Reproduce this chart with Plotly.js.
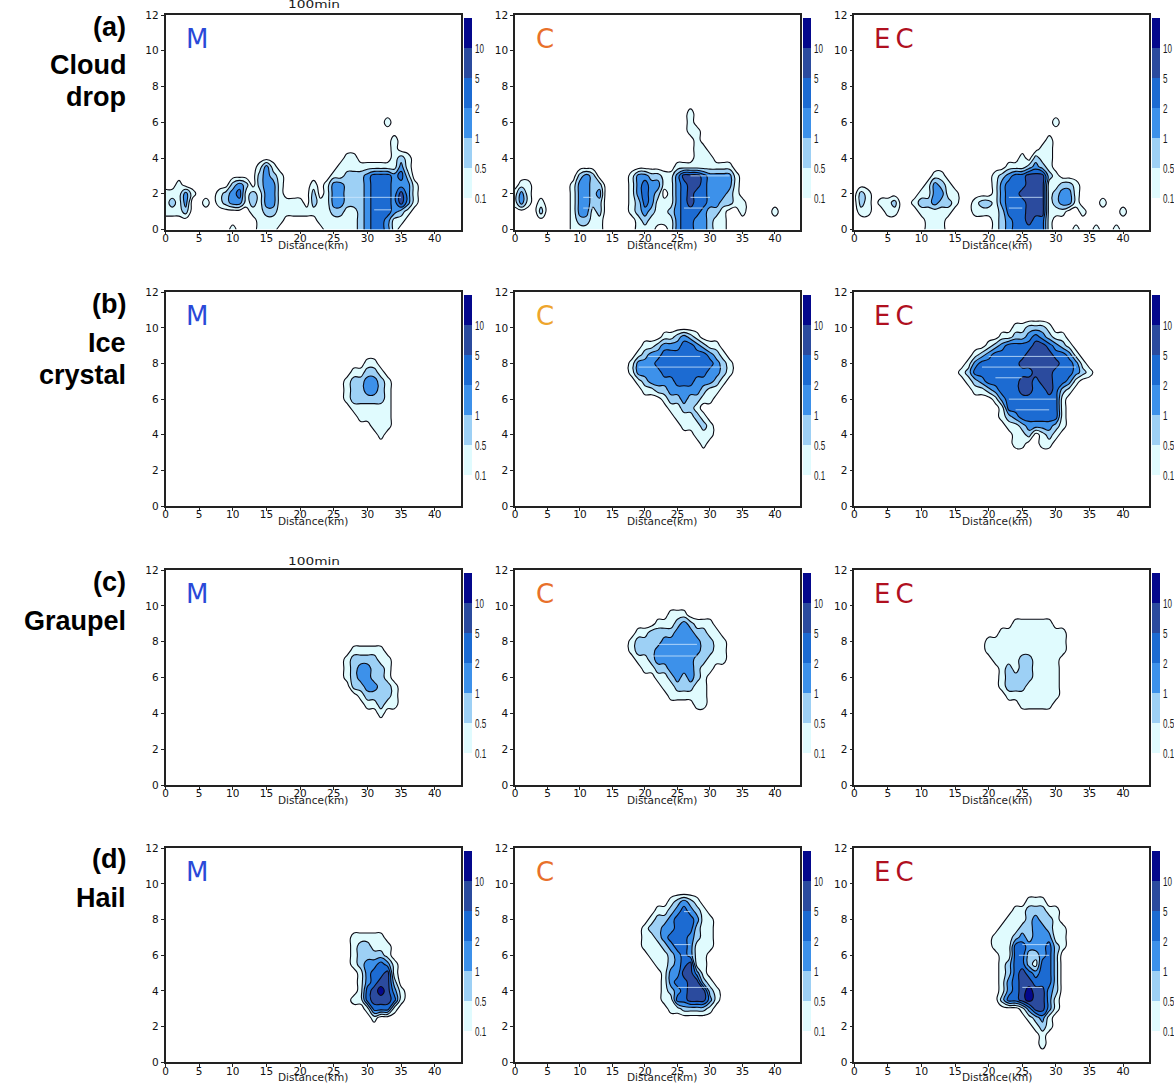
<!DOCTYPE html>
<html><head><meta charset="utf-8">
<script src="https://cdn.plot.ly/plotly-3.0.1.min.js"></script>
<style>html,body{margin:0;padding:0;background:#fff}</style></head>
<body><div id="chart" style="width:1174px;height:1084px"></div>
<script>
// Band codes: 0 = below 0.1, 1 = 0.1-0.5, 2 = 0.5-1, 3 = 1-2, 4 = 2-5, 5 = 5-10, 6 = above 10.
// Every row is one height (0.5 km apart, listed from the top down), every character one km of distance.
const levelLabels = ["0.1","0.5","1","2","5","10"];
const xTicks = [0,5,10,15,20,25,30,35,40];
const yTicks = [0,2,4,6,8,10,12];
const bandColors = ["#ffffff","#e0fbfe","#9dd0f5","#3d91ea","#1c6bd2","#2b4b9e","#04088c"];

const cloudM = [
"00000 00000 00000 00000 00000 00000 00010 00000",
"00000 00000 00000 00000 00000 00000 00000 00000",
"00000 00000 00000 00000 00000 00000 00001 00000",
"00000 00000 00000 00000 00000 00000 00001 00000",
"00000 00000 00000 00000 00000 00110 00001 21000",
"00000 00000 00001 31000 00000 01111 11111 31000",
"00000 00000 00002 32100 00000 11222 34443 42000",
"00100 00000 23202 33100 00101 33222 34443 33100",
"11131 00012 34121 33100 00201 33222 34443 53100",
"12130 01012 33121 33111 10211 33222 34443 53100",
"11120 00000 00011 22111 11111 22112 34443 21000",
"00000 00000 00001 11100 00011 11112 34431 10000",
"00000 00000 10001 11000 00001 11112 34431 00000"];
const cloudC = [
"00000 00000 00000 00000 00000 00100 00000 00000 00000",
"00000 00000 00000 00000 00000 00100 00000 00000 00000",
"00000 00000 00000 00000 00000 00110 00000 00000 00000",
"00000 00000 00000 00000 00000 00010 00000 00000 00000",
"00000 00000 00000 00000 00000 00011 00000 00000 00000",
"00000 00000 00000 00000 00000 00011 10000 00000 00000",
"00000 00000 00000 00000 00000 11111 11110 00000 00000",
"00000 00000 23200 00013 32211 35554 33331 00000 00000",
"01100 00001 33220 00013 43311 34554 33331 00000 00000",
"13100 00001 33230 00013 43201 34544 33321 00000 00000",
"13101 00001 33220 00012 43111 34544 33221 10000 00000",
"00002 00001 33120 00012 32112 34443 22100 10000 10000",
"00000 00001 22110 00001 21111 34433 21100 00000 00000",
"00000 00001 11110 00001 11001 34433 21100 00000 00000"];
const cloudEC = [
"00000 00000 00000 00000 00000 00000 10000 00000 00000",
"00000 00000 00000 00000 00000 00000 00000 00000 00000",
"00000 00000 00000 00000 00000 00001 00000 00000 00000",
"00000 00000 00000 00000 00000 00011 00000 00000 00000",
"00000 00000 00000 00000 00000 10211 00000 00000 00000",
"00000 00000 00000 00000 00011 12321 00000 00000 00000",
"00000 00000 00110 00000 01234 45552 10000 00000 00000",
"00000 00000 01321 00000 01344 45551 12210 00000 00000",
"02100 00000 11331 10000 01344 55551 23310 00000 00000",
"02101 12001 22322 10012 21344 45551 23310 00100 00000",
"01100 11000 11111 00011 11244 45551 11001 00000 10000",
"00000 00000 01110 00000 01234 45441 00000 00000 00000",
"00000 00000 01110 00000 01234 44441 00010 01001 00000"];

const iceM = [
"000011000",
"001122100",
"012233210",
"012233210",
"012222210",
"001111110",
"000111110",
"000001110",
"000000100"];
const iceC = [
"000000 112321 000000",
"000112 333443 211000",
"001233 444444 432100",
"013334 444444 443210",
"013333 444444 433210",
"001233 334443 332100",
"000112 233333 211000",
"000000 122322 110000",
"000000 011221 000000",
"000000 001112 100000",
"000000 000111 210000",
"000000 000001 110000",
"000000 000000 100000"];
const iceEC = [
"00000 00011 22210 00000",
"00000 01122 34321 10000",
"00001 23444 45543 21000",
"00123 44444 55554 43100",
"01344 44445 55555 44310",
"12444 44444 45554 44321",
"01234 44445 54554 43100",
"00112 34445 54454 21000",
"00000 13444 44444 10000",
"00000 01444 44444 10000",
"00000 01234 44444 10000",
"00000 00112 33332 10000",
"00000 00011 20121 00000",
"00000 00011 00110 00000"];

const graupelM = [
"00111 11000",
"01222 21100",
"01233 22100",
"01233 22100",
"00223 32210",
"00012 22210",
"00001 12110",
"00000 01000"];
const graupelC = [
"00000 00111 00000 00",
"00000 11123 21110 00",
"00112 22233 32211 00",
"01222 23333 33221 10",
"01222 33333 33221 10",
"00112 33333 32211 10",
"00011 22333 32110 00",
"00000 11232 32100 00",
"00000 01122 21100 00",
"00000 00111 11100 00",
"00000 00000 01100 00"];
const graupelEC = [
"00001 11111 000",
"00111 11111 110",
"11111 11111 110",
"11111 11111 110",
"01111 22111 100",
"00121 22111 100",
"00122 22111 100",
"00122 21111 100",
"00011 11111 100",
"00000 11111 000"];

const hailM = [
"011111000",
"012211100",
"012222100",
"012334310",
"001344510",
"001345520",
"001456531",
"011455541",
"000144410",
"000010000"];
const hailC = [
"00000 12321 000",
"00011 23432 100",
"00122 34443 110",
"01223 34442 110",
"01123 44432 110",
"01112 34431 110",
"00111 23431 100",
"00011 23451 100",
"00001 33553 100",
"00001 34455 210",
"00001 23455 521",
"00001 14455 531",
"00000 11222 210"];
const hailEC = [
"00000 11100 0",
"00011 22211 0",
"00111 23221 0",
"01112 23321 1",
"11123 23331 1",
"11144 33342 1",
"01144 22342 0",
"01244 21442 0",
"01245 43442 0",
"01345 54442 0",
"01345 65532 0",
"02445 65531 0",
"00001 35531 0",
"00000 12310 0",
"00000 01210 0",
"00000 00100 0",
"00000 00100 0"];

// Pale horizontal streaks visible inside the filled bands: [from km, to km, height km]
const streakCloudM = [[24.5,35,1.8],[31,33.5,1.1]];
const streakCloudC = [[10.5,12,1.8],[27,30,1.8],[10.5,12,1.2],[26,29,1.2],[27,33,3]];
const streakCloudEC = [[23,28,1.8],[23,25,1.2]];
const streakIceC = [[20.5,28.5,8.4],[19,32,7.8]];
const streakIceEC = [[20,33,8.4],[19,33,7.8],[21,25,7.2],[23,30,6],[24,29,5.4]];
const streakGraupelC = [[22,28,7.85],[21,28,7.2]];
const streakHailC = [[26,27,8.45],[24.5,27,6.6],[25.5,27.5,6],[25,30,4.2]];
const streakHailEC = [[25,29,6.6],[24.5,29,6],[25,28,4.2]];

const panels = [
 {rows:cloudM,   x0:0,  yTop:6.0, row:0,col:0,name:"M",streaks:streakCloudM},
 {rows:cloudC,   x0:0,  yTop:6.5, row:0,col:1,name:"C",streaks:streakCloudC},
 {rows:cloudEC,  x0:0,  yTop:6.0, row:0,col:2,name:"EC",streaks:streakCloudEC},
 {rows:iceM,     x0:26, yTop:8.0, row:1,col:0,name:"M"},
 {rows:iceC,     x0:17, yTop:9.5, row:1,col:1,name:"C",streaks:streakIceC},
 {rows:iceEC,    x0:16, yTop:10.0,row:1,col:2,name:"EC",streaks:streakIceEC},
 {rows:graupelM, x0:26, yTop:7.5, row:2,col:0,name:"M"},
 {rows:graupelC, x0:17, yTop:9.5, row:2,col:1,name:"C",streaks:streakGraupelC},
 {rows:graupelEC,x0:20, yTop:9.0, row:2,col:2,name:"EC"},
 {rows:hailM,    x0:27, yTop:7.0, row:3,col:0,name:"M"},
 {rows:hailC,    x0:19, yTop:9.0, row:3,col:1,name:"C",streaks:streakHailC},
 {rows:hailEC,   x0:21, yTop:9.0, row:3,col:2,name:"EC",streaks:streakHailEC}
];

const W = 1174, H = 1084;
const colBox = [[165.5,461,43.9],[515,800,43.85],[854.3,1149.3,43.9]];
const rowBox = [[15,229.5],[292.3,506],[570,785],[848.3,1062.3]];
const barX = [463.5,802.7,1151.7];
const labelX = [197,545,894];
const distX = [313,662,997];
const nameColors = {M:"#2a49d8",C:"#e8702a",EC:"#b0101f"};

const xs = Array.from({length:45},(_,i)=>i);
const ys = Array.from({length:25},(_,i)=>i*0.5);

function decode(p){
  const z = ys.map(()=>xs.map(()=>0));
  p.rows.forEach((s,r)=>{
    const t = s.replace(/ /g,"");
    const j = Math.round((p.yTop - r*0.5)/0.5);
    for(let i=0;i<t.length;i++){ z[j][p.x0+i] = +t[i]; }
  });
  return z;
}
const top6 = 6.5;
const scale = [];
bandColors.forEach((c,i)=>{
  const lo = i===0?0:(i-0.5)/top6, hi = i===6?1:(i+0.5)/top6;
  scale.push([lo,c]); scale.push([hi,c]);
});
const traces = [], layout = {
  width:W,height:H,margin:{l:0,r:0,t:0,b:0,autoexpand:false},
  paper_bgcolor:"#fff",plot_bgcolor:"#fff",showlegend:false,annotations:[]
};
const tickFont = {family:"DejaVu Sans",size:10.5,color:"#111"};
panels.forEach((p,k)=>{
  const n = k+1, c = colBox[p.col], r = rowBox[p.row], z = decode(p);
  const xa = "xaxis"+(n>1?n:""), ya = "yaxis"+(n>1?n:"");
  const xr = "x"+(n>1?n:""), yr = "y"+(n>1?n:"");
  layout[xa] = {domain:[c[0]/W,c[1]/W],range:[0,c[2]],anchor:yr,tickmode:"array",tickvals:xTicks,ticks:"outside",ticklen:3,ticklabelstandoff:-5,
    tickcolor:"#222",showgrid:false,zeroline:false,showline:true,mirror:true,linecolor:"#222",linewidth:1.5,tickfont:tickFont};
  layout[ya] = {domain:[1-r[1]/H,1-r[0]/H],range:[0,12],anchor:xr,tickmode:"array",tickvals:yTicks,ticks:"outside",ticklen:3,
    tickcolor:"#222",showgrid:false,zeroline:false,showline:true,mirror:true,linecolor:"#222",linewidth:1.5,tickfont:tickFont};
  traces.push({type:"contour",x:xs,y:ys,z:z,xaxis:xr,yaxis:yr,zmin:0,zmax:top6,autocontour:false,hoverinfo:"skip",
    contours:{start:0.5,end:5.5,size:1,coloring:"fill",showlines:false},line:{width:0,smoothing:1.3},colorscale:scale,
    colorbar:{x:barX[p.col]/W,xanchor:"left",xref:"paper",y:1-(r[0]+3)/H,yanchor:"top",yref:"paper",lenmode:"pixels",len:195,thicknessmode:"pixels",thickness:8,
      xpad:0,ypad:0,outlinewidth:0,borderwidth:0,tickmode:"array",tickvals:[0.5,1.5,2.5,3.5,4.5,5.5],ticktext:levelLabels,ticks:"",ticklen:0,
      tickfont:{family:"Liberation Sans",size:13,color:"#1a1a1a"}}});
  if(p.streaks){
    const sx=[],sy=[];
    p.streaks.forEach(s=>{sx.push(s[0],s[1],null);sy.push(s[2],s[2],null);});
    traces.push({type:"scatter",mode:"lines",x:sx,y:sy,xaxis:xr,yaxis:yr,hoverinfo:"skip",line:{color:"rgba(205,230,252,0.8)",width:1}});
  }
  traces.push({type:"contour",x:xs,y:ys,z:z,xaxis:xr,yaxis:yr,showscale:false,autocontour:false,hoverinfo:"skip",zmin:0,zmax:top6,
    contours:{start:0.5,end:5.5,size:1,coloring:"none"},line:{color:"#0a0a14",width:1.1,smoothing:1.3}});
  const col = (p.name==="C"&&p.row===1)?"#eea52c":nameColors[p.name];
  layout.annotations.push({xref:"paper",yref:"paper",x:labelX[p.col]/W,y:1-(r[0]+24)/H,xanchor:"center",yanchor:"middle",showarrow:false,
    text:p.name==="EC"?"E\u2009C":p.name,font:{family:"DejaVu Sans",size:26,color:col}});
  layout.annotations.push({xref:"paper",yref:"paper",x:distX[p.col]/W,y:1-(r[1]+15)/H,xanchor:"center",yanchor:"middle",showarrow:false,
    text:"Distance(km)",font:{family:"DejaVu Sans",size:10.5,color:"#1a1a1a"}});
});
const sideLabels = [["(a)",27],["Cloud",65],["drop",97],["(b)",304],["Ice",343],["crystal",375],["(c)",582],["Graupel",621],["(d)",859],["Hail",898]];
sideLabels.forEach(s=>layout.annotations.push({xref:"paper",yref:"paper",x:128/W,y:1-s[1]/H,xanchor:"right",yanchor:"middle",showarrow:false,
  text:s[0],font:{family:"Liberation Sans",size:27,color:"#000",weight:700}}));
[5,561].forEach(y=>layout.annotations.push({xref:"paper",yref:"paper",x:314/W,y:1-y/H,xanchor:"center",yanchor:"middle",showarrow:false,
  text:"100min",font:{family:"DejaVu Sans",size:10,color:"#1a1a1a"}}));
Plotly.newPlot("chart",traces,layout,{displayModeBar:false}).then(gd=>{
  gd.querySelectorAll(".cbaxis text, .colorbar text").forEach(t=>{
    t.setAttribute("textLength",t.getComputedTextLength()*0.62);
    t.setAttribute("lengthAdjust","spacingAndGlyphs");
  });
  gd.querySelectorAll(".annotation-text").forEach(t=>{
    if(t.textContent==="100min"){t.setAttribute("textLength",52);t.setAttribute("lengthAdjust","spacingAndGlyphs");}
  });
});
</script></body></html>
